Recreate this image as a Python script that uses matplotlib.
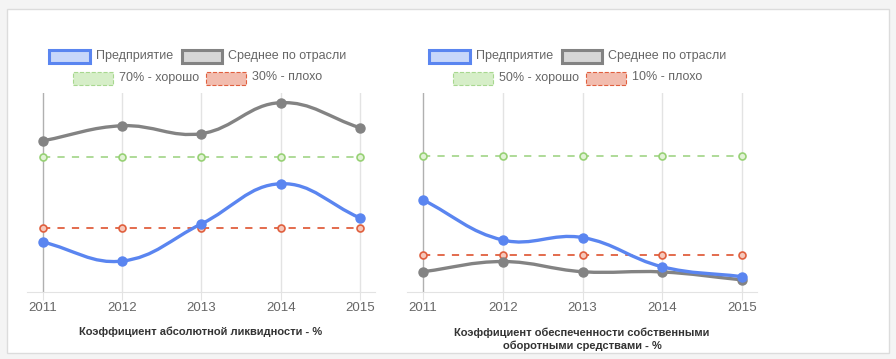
import numpy as np
import matplotlib
matplotlib.use('Agg')
import matplotlib.pyplot as plt
from matplotlib.patches import Rectangle
from matplotlib.path import Path
from matplotlib.patches import PathPatch

plt.rcParams['font.family'] = ['Liberation Sans', 'DejaVu Sans']

years = [2011, 2012, 2013, 2014, 2015]

# left chart: absolute liquidity
liq_company = [22.3, 11.7, 32.5, 54.9, 35.8]
liq_industry = [78.9, 87.3, 82.9, 100.2, 86.2]
liq_good = 70
liq_bad = 30

# right chart: own working capital
own_company = [32.1, 15.9, 16.9, 5.1, 1.1]
own_industry = [3.1, 7.2, 3.1, 3.0, -0.2]
own_good = 50
own_bad = 10

W, H = 896, 359
BLUE = '#5a85f0'
GRAY = '#838383'
GREEN = '#97d175'
RED = '#e0603f'


def spline(ax, xs, ys, tension=0.4):
    # chart.js style bezier between points, computed in pixel space
    pts = ax.transData.transform(np.column_stack([xs, ys]))
    n = len(pts)
    verts = [pts[0]]
    codes = [Path.MOVETO]
    cps = []
    for i in range(n):
        p = pts[max(i - 1, 0)]
        c = pts[i]
        nx = pts[min(i + 1, n - 1)]
        d01 = np.hypot(*(c - p))
        d12 = np.hypot(*(nx - c))
        tot = d01 + d12
        s01 = d01 / tot if tot else 0
        s12 = d12 / tot if tot else 0
        cps.append((c - tension * s01 * (nx - p), c + tension * s12 * (nx - p)))
    for i in range(1, n):
        verts += [cps[i - 1][1], cps[i][0], pts[i]]
        codes += [Path.CURVE4] * 3
    verts = ax.transData.inverted().transform(np.array(verts))
    return Path(verts, codes)


def panel(left_px, right_px, ylim, company, industry, good, bad):
    ax = fig.add_axes([left_px / W, 1 - 292 / H, (right_px - left_px) / W, 199 / H])
    ax.patch.set_alpha(0)
    ax.set_xlim(2011 - 16 / 79.25, 2015 + 15 / 79.25)
    ax.set_ylim(*ylim)
    for s in ['top', 'right', 'left']:
        ax.spines[s].set_visible(False)
    ax.spines['bottom'].set_color('#e3e3e3')
    ax.set_yticks([])
    ax.set_xticks(years)
    ax.set_xticklabels([str(y) for y in years])
    ax.tick_params(axis='x', length=6, color='#e3e3e3', labelsize=9.5, labelcolor='#666666', pad=1.5)
    for i, y in enumerate(years):
        ax.axvline(y, color='#b0b0b0' if i == 0 else '#e3e3e3', lw=1, zorder=0)
    ax.plot(years, [good] * len(years), color='#a8d890', lw=1.3, ls=(0, (4, 4)),
            marker='o', ms=5, mfc='#e2f2d6', mec=GREEN, mew=1.2, zorder=2)
    ax.plot(years, [bad] * len(years), color=RED, lw=1.3, ls=(0, (4, 4)),
            marker='o', ms=5, mfc='#f6c8bb', mec=RED, mew=1.2, zorder=2)
    for vals, col in [(industry, GRAY), (company, BLUE)]:
        ax.add_patch(PathPatch(spline(ax, years, vals), fc='none', ec=col, lw=2.4, zorder=3))
        ax.plot(years, vals, ls='none', marker='o', ms=6.5, color=col, zorder=4)
    return ax


def legend_item(x, y, w, fc, ec, lw, ls, label):
    fig.patches.append(Rectangle((x / W, 1 - (y + 6.5) / H), w / W, 13 / H,
                                 transform=fig.transFigure, fc=fc, ec=ec, lw=lw, ls=ls))
    fig.text((x + w + 6) / W, 1 - (y - 0.5) / H, label, fontsize=9, color='#666666', va='center')


fig = plt.figure(figsize=(W / 100, H / 100), dpi=100)
fig.patch.set_facecolor('#f4f4f4')
fig.patches.append(Rectangle((7 / W, 1 - 353 / H), 882 / W, 344 / H, transform=fig.transFigure,
                             fc='white', ec='#dcdcdc', lw=1, zorder=-10))

panel(27, 375, (-5.6, 105.6), liq_company, liq_industry, liq_good, liq_bad)
panel(407, 757, (-5.1, 75.3), own_company, own_industry, own_good, own_bad)

# left legend
legend_item(49, 56, 41, '#c8d7fa', BLUE, 2.2, '-', 'Предприятие')
legend_item(182, 56, 40, '#d6d6d6', GRAY, 2.2, '-', 'Среднее по отрасли')
legend_item(73, 78, 40, '#d6eec8', '#a8d890', 0.8, '--', '70% - хорошо')
legend_item(206, 78, 40, '#f2bcae', RED, 0.8, '--', '30% - плохо')
# right legend
legend_item(429, 56, 41, '#c8d7fa', BLUE, 2.2, '-', 'Предприятие')
legend_item(562, 56, 40, '#d6d6d6', GRAY, 2.2, '-', 'Среднее по отрасли')
legend_item(453, 78, 40, '#d6eec8', '#a8d890', 0.8, '--', '50% - хорошо')
legend_item(586, 78, 40, '#f2bcae', RED, 0.8, '--', '10% - плохо')

fig.text(201 / W, 1 - 332 / H, 'Коэффициент абсолютной ликвидности - %', fontsize=8,
         fontweight='bold', color='#333333', ha='center', va='center')
fig.text(582 / W, 1 - 339 / H, 'Коэффициент обеспеченности собственными\nоборотными средствами - %',
         fontsize=8, fontweight='bold', color='#333333', ha='center', va='center', linespacing=1.3)

fig.savefig('out.png', dpi=100, facecolor=fig.get_facecolor())
